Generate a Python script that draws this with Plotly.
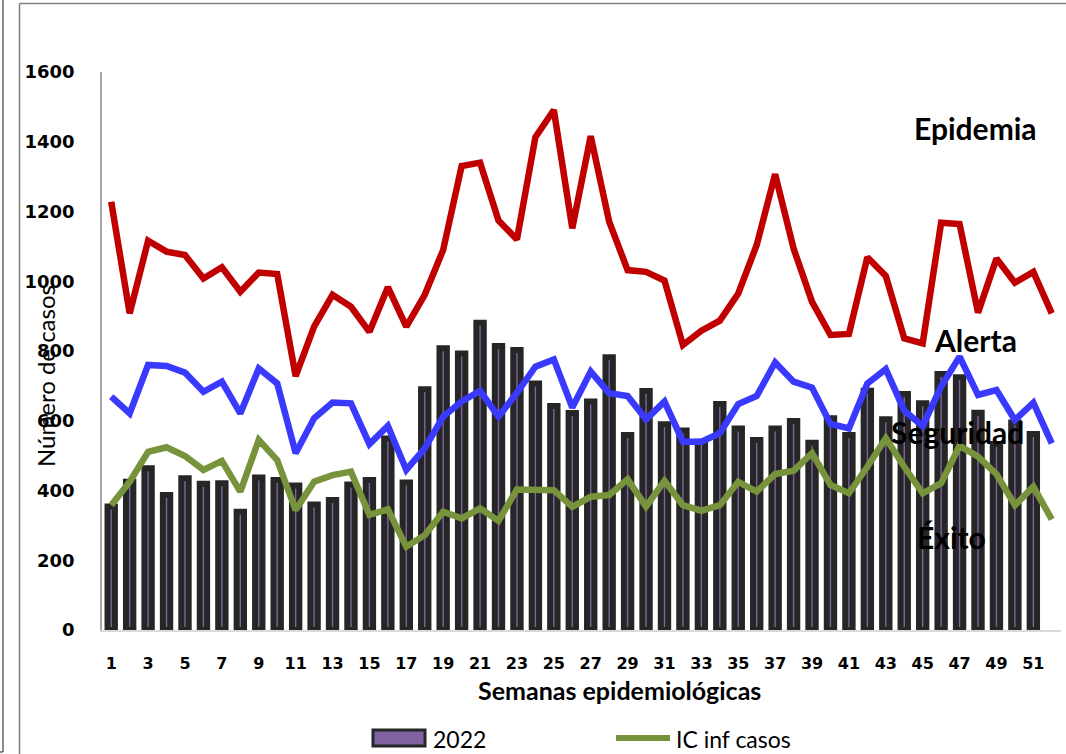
import plotly.graph_objects as go

weeks = list(range(1, 53))
tick_weeks = list(range(1, 52, 2))
tick_labels = [str(w) for w in tick_weeks]

cases_2022 = [354, 425, 464, 387, 435, 419, 421, 339, 437, 430, 414, 360, 373, 417, 430, 549,
              423, 690, 808, 793, 881, 814, 803, 707, 642, 622, 655, 782, 559, 685, 590, 572,
              540, 648, 578, 545, 578, 599, 537, 607, 559, 686, 604, 677, 650, 734, 725, 623,
              533, 595, 562, None]

ic_sup = [1228, 908, 1116, 1085, 1075, 1008, 1040, 970, 1025, 1021, 728, 870, 961, 927, 855, 983,
          870, 961, 1090, 1330, 1340, 1174, 1120, 1413, 1491, 1152, 1416, 1171, 1032, 1027, 1002, 817,
          858, 887, 965, 1104, 1307, 1094, 941, 846, 849, 1069, 1015, 836, 822, 1168, 1164, 910,
          1065, 996, 1027, 908]

mediana = [669, 621, 760, 757, 738, 683, 712, 621, 750, 707, 507, 607, 652, 650, 533, 585,
           459, 521, 612, 655, 686, 612, 680, 755, 776, 638, 741, 679, 671, 604, 655, 540,
           540, 564, 648, 671, 767, 712, 695, 591, 578, 707, 748, 629, 585, 698, 784, 674,
           688, 602, 652, 535]

ic_inf = [358, 425, 511, 524, 499, 459, 485, 397, 545, 487, 344, 425, 444, 454, 330, 346,
          239, 272, 339, 320, 349, 313, 403, 401, 401, 353, 382, 387, 432, 354, 428, 358,
          342, 358, 425, 397, 447, 457, 507, 416, 392, 468, 550, 468, 392, 421, 528, 497,
          447, 358, 411, 317]

zone_labels = ["Epidemia", "Alerta", "Seguridad", "Éxito"]
y_ticks = list(range(0, 1601, 200))

W, H = 1066, 754
L, R, T, B = 102, 5, 72, 124
PW, PH = W - L - R, H - T - B


def px(x):
    return (x - L) / PW


def py(y):
    return (T + PH - y) / PH


fig = go.Figure()
fig.add_trace(go.Bar(x=weeks, y=cases_2022, name="2022", width=0.40,
                     marker=dict(color="#8064A2", line=dict(color="#262626", width=6)),
                     showlegend=False))
fig.add_trace(go.Scatter(x=weeks, y=ic_sup, name="IC sup casos", mode="lines",
                         line=dict(color="#C00000", width=6.5), showlegend=False))
fig.add_trace(go.Scatter(x=weeks, y=mediana, name="Mediana", mode="lines",
                         line=dict(color="#3A3AFF", width=6.5), showlegend=False))
fig.add_trace(go.Scatter(x=weeks, y=ic_inf, name="IC inf casos", mode="lines",
                         line=dict(color="#77933C", width=6.5), showlegend=False))

annotations = []
label_pos = [(975, 128), (975, 340), (957, 432), (951, 537)]
for txt, (ax, ay) in zip(zone_labels, label_pos):
    annotations.append(dict(text=txt, x=px(ax), y=py(ay), xref="paper", yref="paper",
                            showarrow=False, xanchor="center", yanchor="middle",
                            font=dict(family="Lato", size=30, color="black", weight="bold")))

annotations.append(dict(text="Número de casos", x=px(45), y=py(376), xref="paper", yref="paper",
                        showarrow=False, textangle=-90, xanchor="center", yanchor="middle",
                        font=dict(family="Lato", size=24, color="black")))
annotations.append(dict(text="Semanas epidemiológicas", x=px(619), y=py(690), xref="paper", yref="paper",
                        showarrow=False, xanchor="center", yanchor="middle",
                        font=dict(family="Lato", size=25, color="black", weight="bold")))
# legend
annotations.append(dict(text="2022", x=px(431), y=py(739), xref="paper", yref="paper",
                        showarrow=False, xanchor="left", yanchor="middle",
                        font=dict(family="Lato", size=23, color="black")))
annotations.append(dict(text="IC inf casos", x=px(674), y=py(739), xref="paper", yref="paper",
                        showarrow=False, xanchor="left", yanchor="middle",
                        font=dict(family="Lato", size=23, color="black")))

shapes = [
    dict(type="rect", xref="paper", yref="paper", x0=px(373), x1=px(425), y0=py(746), y1=py(730),
         fillcolor="#8064A2", line=dict(color="#262626", width=3)),
    dict(type="line", xref="paper", yref="paper", x0=px(616), x1=px(670), y0=py(738), y1=py(738),
         line=dict(color="#77933C", width=6)),
    # frame lines
    dict(type="line", xref="paper", yref="paper", x0=px(19.5), x1=px(19.5), y0=py(3.5), y1=py(760),
         line=dict(color="#7F7F7F", width=1.5)),
    dict(type="line", xref="paper", yref="paper", x0=px(19.5), x1=px(1070), y0=py(3.5), y1=py(3.5),
         line=dict(color="#7F7F7F", width=1.5)),
    dict(type="line", xref="paper", yref="paper", x0=px(3), x1=px(3), y0=py(-5), y1=py(752),
         line=dict(color="#404040", width=1.2)),
    dict(type="line", xref="paper", yref="paper", x0=px(-5), x1=px(3), y0=py(752), y1=py(752),
         line=dict(color="#404040", width=1.2)),
]

fig.update_layout(
    width=W, height=H,
    margin=dict(l=L, r=R, t=T, b=B),
    paper_bgcolor="white", plot_bgcolor="white",
    showlegend=False,
    annotations=annotations,
    shapes=shapes,
)
fig.update_xaxes(range=[0.5, 52.5], tickmode="array", tickvals=tick_weeks, ticktext=tick_labels,
                 showgrid=False, zeroline=False, showline=True, linecolor="#D9D9D9", linewidth=2,
                 ticks="", ticklabelstandoff=18,
                 tickfont=dict(family="DejaVu Sans", size=16, color="black", weight="bold"))
fig.update_yaxes(range=[0, 1600], tickmode="array", tickvals=y_ticks, ticktext=[str(v) for v in y_ticks],
                 showgrid=False, zeroline=False, showline=True, linecolor="#A6A6A6", linewidth=1.5,
                 ticks="", ticklabelstandoff=22,
                 tickfont=dict(family="DejaVu Sans", size=18, color="black", weight="bold"))

fig.write_html("out.html",
               config={"displayModeBar": False},
               post_script="document.body.style.margin='0';document.body.style.padding='0';"
                           "document.body.style.overflow='hidden';")
